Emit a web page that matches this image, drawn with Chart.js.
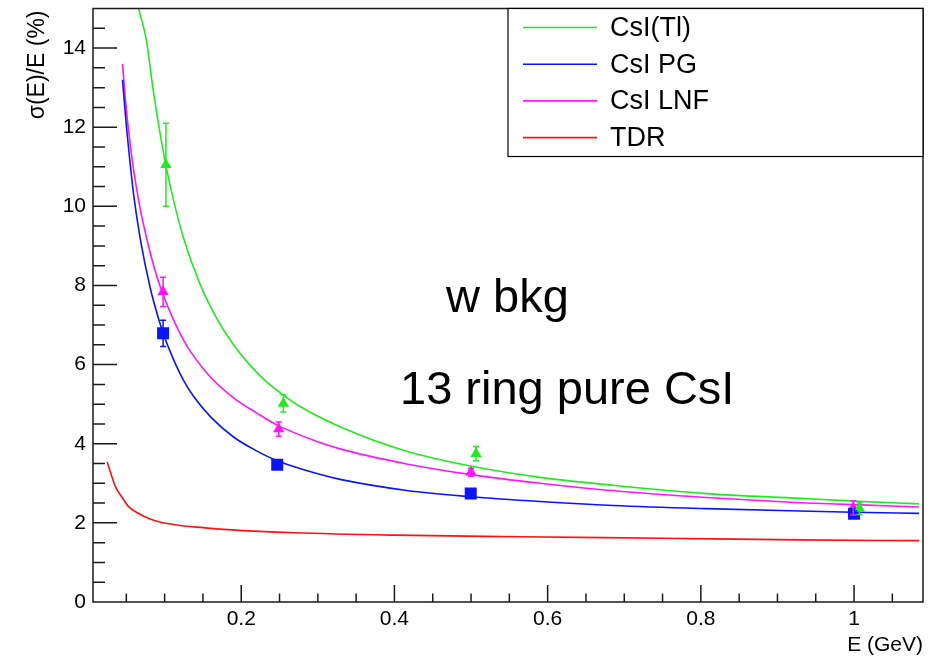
<!DOCTYPE html>
<html>
<head>
<meta charset="utf-8">
<script src="https://cdn.jsdelivr.net/npm/chart.js@4/dist/chart.umd.min.js"></script>
<style>
  html, body { margin: 0; padding: 0; background: #fff; }
  #wrap { width: 936px; height: 658px; position: relative; }
</style>
</head>
<body>
<div id="wrap"><canvas id="c"></canvas></div>
<script>
// Energy resolution sigma(E)/E (%) versus photon energy E (GeV)

const seriesLabels = ['CsI(Tl)', 'CsI PG', 'CsI LNF', 'TDR'];
const seriesColors = ['#1eeb1e', '#0a14ff', '#ff14ff', '#ff1010'];

// Fitted resolution curves
const tlCurveE   = [0.066, 0.0762, 0.085, 0.1, 0.1117, 0.1247, 0.1465, 0.168, 0.19, 0.2117, 0.231, 0.255, 0.277, 0.329, 0.416, 0.5065, 0.59, 0.686, 0.807, 0.929, 1.0, 1.085];
const tlCurveRes = [15.0, 14.2, 12.95, 11.2, 10.15, 9.2, 8.02, 7.17, 6.5, 5.98, 5.6, 5.23, 4.94, 4.43, 3.81, 3.41, 3.15, 2.95, 2.74, 2.62, 2.55, 2.48];

const pgCurveE   = [0.045, 0.05, 0.0552, 0.0595, 0.0682, 0.0813, 0.09, 0.098, 0.11, 0.1247, 0.1377, 0.16, 0.19, 0.22, 0.247, 0.3, 0.329, 0.416, 0.5, 0.59, 0.686, 0.807, 0.929, 1.0, 1.085];
const pgCurveRes = [13.2, 12.05, 11.05, 10.3, 9.18, 7.93, 7.3, 6.8, 6.2, 5.6, 5.2, 4.68, 4.17, 3.82, 3.57, 3.24, 3.1, 2.82, 2.66, 2.54, 2.44, 2.36, 2.3, 2.27, 2.24];

const lnfCurveE   = [0.045, 0.05, 0.0552, 0.0595, 0.0682, 0.0813, 0.09, 0.098, 0.11, 0.1247, 0.1377, 0.16, 0.19, 0.22, 0.247, 0.3, 0.329, 0.416, 0.5, 0.59, 0.686, 0.807, 0.929, 1.0, 1.085];
const lnfCurveRes = [13.6, 12.45, 11.55, 10.92, 9.93, 8.82, 8.22, 7.77, 7.2, 6.62, 6.22, 5.68, 5.16, 4.78, 4.47, 4.05, 3.87, 3.49, 3.22, 3.0, 2.81, 2.64, 2.51, 2.46, 2.4];

const tdrCurveE   = [0.025, 0.036, 0.045, 0.053, 0.065, 0.075, 0.09, 0.118, 0.15, 0.183, 0.27, 0.4, 0.564, 0.75, 0.929, 1.085];
const tdrCurveRes = [3.54, 2.91, 2.63, 2.41, 2.25, 2.15, 2.04, 1.94, 1.88, 1.83, 1.75, 1.69, 1.65, 1.61, 1.57, 1.55];

// Measured points with their uncertainties
const tlPointE   = [0.1017, 0.255, 0.5065, 1.007];
const tlPointRes = [11.05, 5.02, 3.75, 2.36];
const tlPointErr = [1.05, 0.22, 0.18, 0.15];

const pgPointE   = [0.098, 0.247, 0.4996, 1.0];
const pgPointRes = [6.79, 3.47, 2.74, 2.23];
const pgPointErr = [0.33, 0.08, 0.08, 0.07];

const lnfPointE   = [0.098, 0.249, 0.5, 0.999];
const lnfPointRes = [7.84, 4.37, 3.28, 2.38];
const lnfPointErr = [0.37, 0.18, 0.1, 0.18];

// Axis ticks
const xTickValues = [0.2, 0.4, 0.6, 0.8, 1];
const yTickValues = [0, 2, 4, 6, 8, 10, 12, 14];

const FONT = '"Liberation Sans", Arial, Helvetica, sans-serif';
const pts = (xs, ys) => xs.map((x, i) => ({ x: x, y: ys[i] }));

function curve(idx, xs, ys) {
  return {
    label: seriesLabels[idx], data: pts(xs, ys),
    borderColor: seriesColors[idx], borderWidth: 1.6,
    pointRadius: 0, fill: false, showLine: true,
    cubicInterpolationMode: 'monotone', clip: 0, order: 2, isCurve: true
  };
}
function points(idx, xs, ys, errs, style, r) {
  return {
    label: seriesLabels[idx] + ' data', data: pts(xs, ys), errors: errs,
    showLine: false, pointStyle: style, pointRadius: r, pointHoverRadius: r,
    backgroundColor: seriesColors[idx], borderColor: seriesColors[idx], borderWidth: 0,
    order: 1
  };
}

// Inner tick marks and frame
const frameAndTicks = {
  id: 'frameAndTicks',
  afterDatasetsDraw(chart) {
    const { ctx, chartArea: a, scales: { x, y } } = chart;
    ctx.save();
    ctx.strokeStyle = '#1a1a1a';
    ctx.lineWidth = 1.5;
    ctx.beginPath();
    for (let k = 1; k * 0.05 < x.max; k++) {
      const v = k * 0.05;
      if (v <= x.min) continue;
      const px = x.getPixelForValue(v);
      const len = (k % 4 === 0) ? 17 : 8.5;
      ctx.moveTo(px, a.bottom);
      ctx.lineTo(px, a.bottom - len);
    }
    for (let k = 1; k * 0.5 < y.max; k++) {
      const py = y.getPixelForValue(k * 0.5);
      const len = (k % 4 === 0) ? 24 : 12;
      ctx.moveTo(a.left, py);
      ctx.lineTo(a.left + len, py);
    }
    ctx.stroke();
    ctx.strokeRect(a.left, a.top, a.right - a.left, a.bottom - a.top);
    ctx.restore();
  }
};

// Vertical error bars with small caps
const errorBars = {
  id: 'errorBars',
  afterDatasetsDraw(chart) {
    const { ctx, scales: { x, y } } = chart;
    ctx.save();
    ctx.lineWidth = 1.5;
    chart.data.datasets.forEach(ds => {
      if (!ds.errors) return;
      ctx.strokeStyle = ds.borderColor;
      ctx.beginPath();
      ds.data.forEach((p, j) => {
        const px = x.getPixelForValue(p.x);
        const top = y.getPixelForValue(p.y + ds.errors[j]);
        const bot = y.getPixelForValue(p.y - ds.errors[j]);
        ctx.moveTo(px, top); ctx.lineTo(px, bot);
        ctx.moveTo(px - 3, top); ctx.lineTo(px + 3, top);
        ctx.moveTo(px - 3, bot); ctx.lineTo(px + 3, bot);
      });
      ctx.stroke();
    });
    ctx.restore();
  }
};

// Legend box, axis titles and labels
const decorations = {
  id: 'decorations',
  afterDraw(chart) {
    const { ctx, chartArea: a } = chart;
    ctx.save();
    // legend
    const w = 415, h = 148;
    const lx = a.right - w, ly = a.top;
    ctx.fillStyle = '#fff';
    ctx.fillRect(lx, ly, w, h);
    ctx.strokeStyle = '#000';
    ctx.lineWidth = 1.2;
    ctx.strokeRect(lx, ly, w, h);
    const curves = chart.data.datasets.filter(d => d.isCurve);
    ctx.font = '27px ' + FONT;
    ctx.textBaseline = 'middle';
    ctx.textAlign = 'left';
    curves.forEach((d, i) => {
      const ry = ly + 19 + i * 36.7;
      ctx.strokeStyle = d.borderColor;
      ctx.lineWidth = 1.6;
      ctx.beginPath();
      ctx.moveTo(lx + 15, ry); ctx.lineTo(lx + 89, ry);
      ctx.stroke();
      ctx.fillStyle = '#000';
      ctx.fillText(d.label, lx + 102, ry + 1);
    });

    // axis titles
    ctx.fillStyle = '#000';
    ctx.font = '21px ' + FONT;
    ctx.textAlign = 'right';
    ctx.textBaseline = 'alphabetic';
    ctx.fillText('E (GeV)', a.right, 651);
    ctx.save();
    ctx.font = '23px ' + FONT;
    ctx.translate(44, a.top + 2);
    ctx.rotate(-Math.PI / 2);
    ctx.fillText('\u03c3(E)/E (%)', 0, 0);
    ctx.restore();

    // plot labels
    ctx.font = '47px ' + FONT;
    ctx.textAlign = 'left';
    ctx.fillText('w bkg', 446, 312);
    ctx.fillText('13 ring pure CsI', 400, 404);
    ctx.restore();
  }
};

new Chart(document.getElementById('c'), {
  type: 'line',
  data: {
    datasets: [
      points(0, tlPointE, tlPointRes, tlPointErr, 'triangle', 6.5),
      points(1, pgPointE, pgPointRes, pgPointErr, 'rect', 8.5),
      points(2, lnfPointE, lnfPointRes, lnfPointErr, 'triangle', 6.5),
      curve(0, tlCurveE, tlCurveRes),
      curve(1, pgCurveE, pgCurveRes),
      curve(2, lnfCurveE, lnfCurveRes),
      curve(3, tdrCurveE, tdrCurveRes)
    ]
  },
  options: {
    responsive: true,
    maintainAspectRatio: false,
    animation: false,
    events: [],
    layout: { padding: { left: 0, top: 8, right: 13, bottom: 0 } },
    plugins: { legend: { display: false }, tooltip: { enabled: false } },
    scales: {
      x: {
        type: 'linear', min: 0.0065, max: 1.09,
        afterBuildTicks: s => { s.ticks = xTickValues.map(v => ({ value: v })); },
        afterFit: s => { s.height = 56; s.paddingLeft = 0; s.paddingRight = 0; },
        grid: { display: false, drawTicks: false },
        border: { display: false },
        ticks: {
          padding: 5, color: '#000', autoSkip: false, maxRotation: 0,
          font: { family: FONT, size: 21 },
          callback: v => String(v)
        }
      },
      y: {
        type: 'linear', min: 0, max: 15,
        afterBuildTicks: s => { s.ticks = yTickValues.map(v => ({ value: v })); },
        afterFit: s => { s.width = 93; s.paddingTop = 0; s.paddingBottom = 0; },
        grid: { display: false, drawTicks: false },
        border: { display: false },
        ticks: {
          padding: 7, color: '#000',
          font: { family: FONT, size: 21 },
          callback: v => String(v)
        }
      }
    }
  },
  plugins: [frameAndTicks, errorBars, decorations]
});
</script>
</body>
</html>
